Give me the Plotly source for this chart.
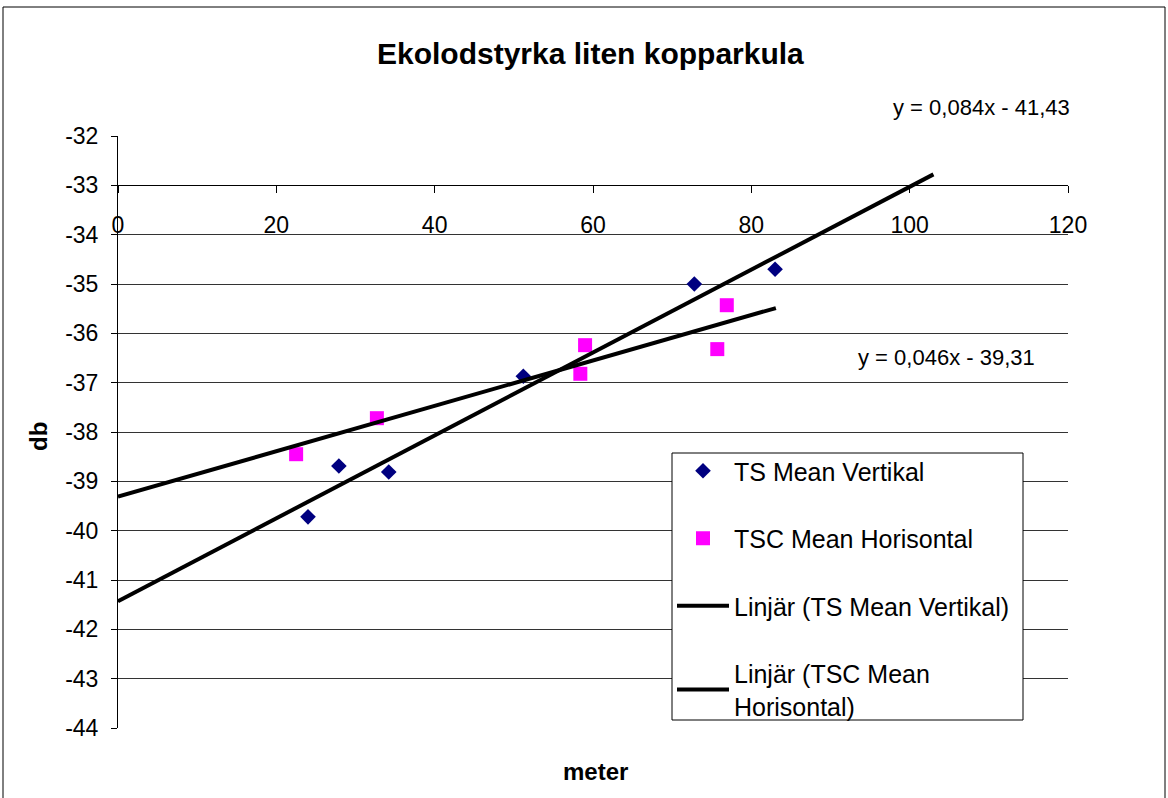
import plotly.graph_objects as go

# ---- data ----
ts_x = [24.0, 27.9, 34.2, 51.2, 72.8, 83.0]
ts_y = [-39.72, -38.69, -38.81, -36.87, -35.00, -34.70]
tsc_x = [22.5, 32.7, 58.4, 59.0, 75.7, 76.9]
tsc_y = [-38.45, -37.72, -36.82, -36.24, -36.32, -35.43]

# linear trend lines (Excel): slope, intercept, x-range drawn
trend_names = ["Linjär (TS Mean Vertikal)", "Linjär (TSC Mean<br>Horisontal)"]
trend_slope = [0.084, 0.046]
trend_intercept = [-41.43, -39.31]
trend_x_range = [[0, 103], [0, 83.1]]
trend_labels = ["y = 0,084x - 41,43", "y = 0,046x - 39,31"]

x_ticks = [0, 20, 40, 60, 80, 100, 120]
y_ticks = [-32, -33, -34, -35, -36, -37, -38, -39, -40, -41, -42, -43, -44]
x_range = [0, 120]
y_range = [-44, -32]
x_axis_cross = -33

FONT = "Liberation Sans, Arial, sans-serif"

# ---- layout geometry (pixels) ----
W, H = 1168, 798
L, R, T, B = 118, 1068, 136, 728
pw, ph = R - L, B - T


def px_x(p):
    return (p - L) / pw


def px_y(p):
    return (B - p) / ph


fig = go.Figure()

fig.add_trace(go.Scatter(
    x=ts_x, y=ts_y, mode="markers", name="TS Mean Vertikal",
    marker=dict(symbol="diamond", size=12, color="#000080"),
    legendgroup="a"))
fig.add_trace(go.Scatter(
    x=tsc_x, y=tsc_y, mode="markers", name="TSC Mean Horisontal",
    marker=dict(symbol="square", size=14, color="#FF00FF"),
    legendgroup="b"))

for i in range(2):
    xs = trend_x_range[i]
    ys = [trend_slope[i] * v + trend_intercept[i] for v in xs]
    fig.add_trace(go.Scatter(
        x=xs, y=ys, mode="lines", name=trend_names[i],
        line=dict(color="black", width=4),
        legendgroup="c%d" % i))

fig.update_layout(
    width=W, height=H,
    margin=dict(l=L, r=W - R, t=T, b=H - B),
    paper_bgcolor="white", plot_bgcolor="white",
    font=dict(family=FONT, size=22, color="black"),
    showlegend=True,
    legend=dict(
        x=px_x(672), y=px_y(448), xanchor="left", yanchor="top",
        bgcolor="rgba(0,0,0,0)", borderwidth=0,
        font=dict(family=FONT, size=25, color="black"),
        tracegroupgap=32, itemwidth=52,
    ),
    xaxis=dict(
        range=x_range, tickvals=x_ticks, ticktext=[str(v) for v in x_ticks],
        showgrid=False, zeroline=False, showline=True, linecolor="black", linewidth=1,
        ticks="outside", ticklen=7, tickcolor="black",
        anchor="free", position=(x_axis_cross - y_range[0]) / (y_range[1] - y_range[0]),
        ticklabelstandoff=12,
        tickfont=dict(family=FONT, size=23, color="black"),
    ),
    yaxis=dict(
        range=y_range, tickvals=y_ticks, ticktext=[str(v) for v in y_ticks],
        showgrid=True, gridcolor="#333333", gridwidth=1,
        zeroline=False, showline=True, linecolor="black", linewidth=1,
        ticks="outside", ticklen=6, tickcolor="black",
        ticklabelstandoff=8,
        tickfont=dict(family=FONT, size=23, color="black"),
    ),
)

# Legend box (drawn as a shape so its border matches the reference)
fig.add_shape(type="rect", xref="paper", yref="paper",
              x0=px_x(672), x1=px_x(1023), y0=px_y(720), y1=px_y(453),
              line=dict(color="black", width=1), fillcolor="white", layer="above")

# Title and axis titles
fig.add_annotation(text="<b>Ekolodstyrka liten kopparkula</b>", xref="paper", yref="paper",
                   x=px_x(590), y=px_y(53), xanchor="center", yanchor="middle",
                   showarrow=False, font=dict(family=FONT, size=30, color="black"))
fig.add_annotation(text="<b>db</b>", xref="paper", yref="paper",
                   x=px_x(38), y=px_y(437), xanchor="center", yanchor="middle",
                   textangle=-90, showarrow=False, font=dict(family=FONT, size=24, color="black"))
fig.add_annotation(text="<b>meter</b>", xref="paper", yref="paper",
                   x=px_x(595), y=px_y(771), xanchor="center", yanchor="middle",
                   showarrow=False, font=dict(family=FONT, size=24, color="black"))

# Trendline equations
fig.add_annotation(text=trend_labels[0], xref="paper", yref="paper",
                   x=px_x(1072), y=px_y(108), xanchor="right", yanchor="middle",
                   showarrow=False, font=dict(family=FONT, size=22, color="black"))
fig.add_annotation(text=trend_labels[1], xref="paper", yref="paper",
                   x=px_x(1037), y=px_y(357), xanchor="right", yanchor="middle",
                   showarrow=False, font=dict(family=FONT, size=22, color="black"))

# Outer chart frame
fig.add_shape(type="rect", xref="paper", yref="paper",
              x0=px_x(3), x1=px_x(1165), y0=px_y(805), y1=px_y(7),
              line=dict(color="black", width=1), fillcolor="rgba(0,0,0,0)", layer="below")

fig.write_html("out.html")
